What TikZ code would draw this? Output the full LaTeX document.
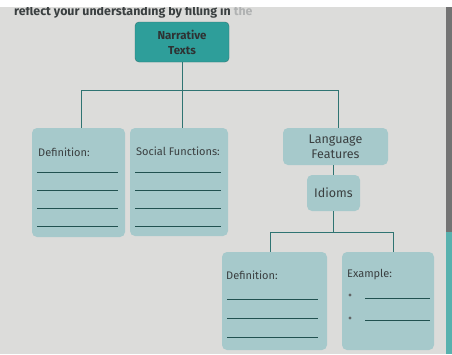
\documentclass[tikz,border=0pt]{standalone}
\usepackage{fontspec}
\setmainfont{Fira Sans}
\definecolor{paper}{HTML}{DCDCDA}
\definecolor{tealDark}{HTML}{2F7472}
\definecolor{tealTop}{HTML}{2E9E9A}
\definecolor{boxFill}{HTML}{A6C9CB}
\definecolor{inkGray}{HTML}{3A3F40}
\tikzset{
  topBox/.style={rectangle, rounded corners=4pt, draw=tealDark, fill=tealTop, text=inkGray!80!black, font=\bfseries\fontsize{11.5}{15}\selectfont, align=center, minimum width=94pt, minimum height=40pt},
  infoBox/.style={rectangle, rounded corners=5pt, fill=boxFill, text=inkGray, font=\fontsize{12.5}{15}\selectfont, align=center},
  boxText/.style={text=inkGray, font=\fontsize{11}{13}\selectfont, inner sep=0pt},
  dotMark/.style={circle, fill=inkGray!80, inner sep=0pt, minimum size=3.2pt},
  conn/.style={draw=tealDark, line width=0.9pt},
  blank/.style={draw=tealDark!70!black, line width=0.8pt},
}

\begin{document}
\begin{tikzpicture}[x=1pt, y=-1pt]
    \useasboundingbox (0,0) rectangle (452,354);
    \fill[paper] (0,7) rectangle (452,354);
    \fill[white] (0,0) rectangle (452,7);
    % page edge on the right
    \fill[black!55] (446,7) rectangle (452,232);
    \fill[tealTop!80] (446,232) rectangle (452,354);

    % heading, cut off at the top
    \begin{scope}
        \clip (0,7) rectangle (446,30);
        \node[anchor=base west, font=\bfseries\fontsize{12.4}{14}\selectfont, text=inkGray, inner sep=0pt] (heading) at (14,15.5) {reflect your understanding by filling in \textcolor{inkGray!40}{the}};
    \end{scope}

    \node[topBox] (narr) at (182,42) {Narrative\\Texts};
    \node[infoBox, minimum width=93pt, minimum height=109pt] (def) at (78.5,182.5) {};
    \node[infoBox, minimum width=98pt, minimum height=108pt] (soc) at (179,182) {};
    \node[infoBox, minimum width=105pt, minimum height=37pt] (lang) at (335.5,146.5) {Language\\Features};
    \node[infoBox, minimum width=53pt, minimum height=36pt] (idiom) at (333.5,193) {Idioms};
    \node[infoBox, minimum width=105pt, minimum height=98pt] (defB) at (274.5,301) {};
    \node[infoBox, minimum width=92pt, minimum height=98pt] (exam) at (388,301) {};

    \node[boxText, anchor=west] (defT) at (38,152) {Definition:};
    \node[boxText, anchor=west] (socT) at (136,151) {Social Functions:};
    \node[boxText, anchor=west] (defBT) at (226,275) {Definition:};
    \node[boxText, anchor=west] (examT) at (347,275) {Example:};
    \node[dotMark] (dotA) at (350,295) {};
    \node[dotMark] (dotB) at (350,318) {};

    % lines to write on
    \foreach \y in {172,190,208,226} {
        \draw[blank] (37,\y) -- (118,\y);
        \draw[blank] (135,\y) -- (221,\y);
    }
    \foreach \y in {299,318,337}
        \draw[blank] (227,\y) -- (318,\y);
    \foreach \y in {298,320}
        \draw[blank] (365,\y) -- (430,\y);

    % connectors
    \coordinate (busTop) at (0,90);
    \coordinate (defTop) at ([xshift=2.5pt]def.north);
    \coordinate (langTop) at ([xshift=2.5pt]lang.north);
    \draw[conn] (narr.south) -- (narr.south |- soc.north);
    \draw[conn] (defTop) |- (langTop |- busTop) -- (langTop);
    \draw[conn] (lang.south -| idiom.north) -- (idiom.north);

    \coordinate (busLow) at (0,232);
    \coordinate (defBTop) at ([xshift=-4.5pt]defB.north);
    \coordinate (examTop) at ([xshift=5pt]exam.north);
    \draw[conn] (idiom.south) -- (idiom.south |- busLow);
    \draw[conn] (defBTop) |- (examTop |- busLow) -- (examTop);
\end{tikzpicture}
\end{document}
